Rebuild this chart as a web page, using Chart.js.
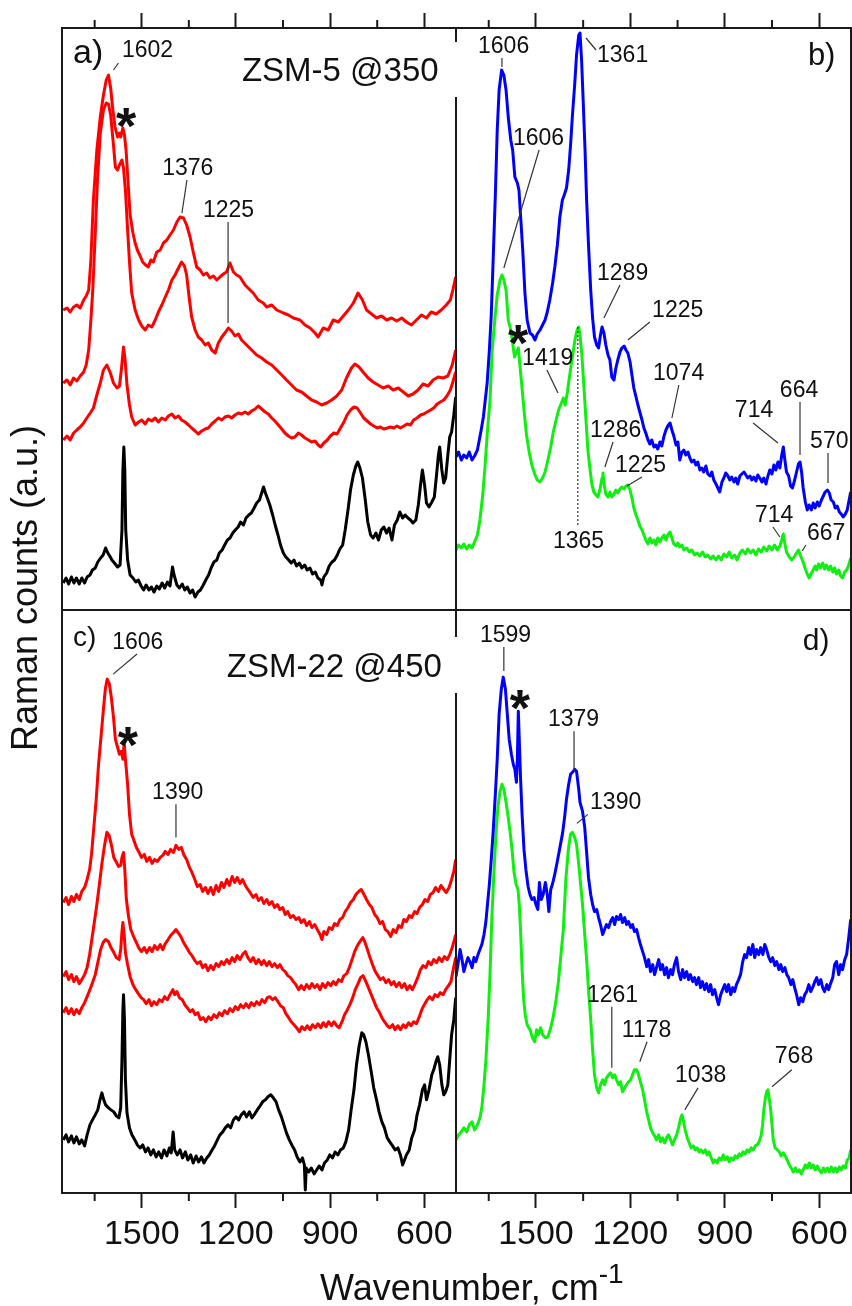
<!DOCTYPE html>
<html>
<head>
<meta charset="utf-8">
<script src="https://cdn.jsdelivr.net/npm/chart.js@4.4.1/dist/chart.umd.min.js"></script>
<style>
  body { margin: 0; background: #fff; }
  #fig { position: relative; width: 852px; height: 1306px; overflow: hidden; font-family: "Liberation Sans", Arial, sans-serif; color: #111; }
  #fig canvas { position: absolute; left: 0; top: 0; }
  .ytitle { position: absolute; left: -175px; top: 570px; width: 400px; line-height: 36px; font-size: 36px; text-align: center; transform: rotate(-90deg); white-space: nowrap; }
  .xtitle { position: absolute; left: 320px; top: 1270px; line-height: 36px; font-size: 36px; white-space: nowrap; }
  .xtitle span { font-size: 28px; position: relative; top: -17px; }
</style>
</head>
<body>
<div id="fig">
  <canvas id="pa" width="852" height="1306"></canvas>
  <canvas id="pb" width="852" height="1306"></canvas>
  <canvas id="pc" width="852" height="1306"></canvas>
  <canvas id="pd" width="852" height="1306"></canvas>
  <div class="ytitle">Raman counts (a.u.)</div>
  <div class="xtitle">Wavenumber, cm<span>-1</span></div>
</div>
<script>
// eje x: numero de onda (cm-1), invertido
const wnMin = 499, wnMax = 1754;
const majorTicks = [1500, 1200, 900, 600];
const minorTicks = [1650, 1350, 1050, 750];
const countMax = 582;

// Panel a) ZSM-5 @350 : [numero de onda, cuentas]
const aRed1 = [[1750,300],[1738,302],[1728,298],[1717,303],[1707,305],[1696,302],[1685,310],[1677,314],[1669,320],[1662,350],[1654,410],[1643,460],[1632,493],[1622,515],[1613,530],[1606,535],[1599,522],[1592,500],[1585,483],[1577,473],[1571,477],[1567,473],[1560,482],[1555,475],[1550,460],[1543,425],[1537,395],[1528,377],[1521,367],[1514,360],[1505,354],[1497,348],[1488,345],[1479,343],[1471,350],[1463,348],[1452,358],[1441,360],[1431,367],[1420,370],[1410,375],[1399,380],[1388,388],[1378,393],[1367,392],[1357,385],[1346,373],[1336,358],[1325,343],[1314,340],[1304,335],[1293,337],[1283,332],[1272,334],[1261,330],[1251,333],[1240,336],[1230,338],[1219,347],[1208,338],[1198,335],[1187,333],[1171,325],[1155,320],[1145,317],[1129,310],[1113,307],[1102,303],[1086,305],[1070,300],[1049,297],[1033,295],[1017,292],[996,290],[980,285],[964,282],[948,277],[938,273],[922,282],[906,280],[890,290],[874,288],[858,294],[842,300],[826,307],[811,317],[797,310],[784,300],[768,296],[752,292],[736,294],[720,290],[704,292],[688,289],[672,292],[657,288],[641,285],[625,290],[609,295],[593,292],[578,298],[562,296],[546,300],[530,305],[517,310],[509,320],[500,333]];
const aRed2 = [[1750,227],[1738,230],[1728,225],[1717,232],[1707,229],[1696,234],[1685,238],[1677,245],[1669,260],[1662,290],[1656,320],[1648,377],[1641,430],[1632,477],[1622,500],[1613,507],[1606,506],[1599,495],[1590,465],[1584,443],[1577,440],[1571,445],[1563,450],[1558,442],[1552,420],[1545,380],[1539,348],[1532,317],[1521,300],[1510,290],[1500,284],[1489,280],[1479,285],[1468,283],[1457,290],[1447,298],[1436,305],[1425,313],[1415,320],[1404,330],[1394,335],[1383,342],[1373,348],[1364,344],[1357,335],[1348,310],[1341,293],[1330,280],[1320,273],[1309,270],[1298,265],[1288,267],[1277,260],[1266,257],[1256,267],[1245,273],[1235,277],[1224,282],[1214,279],[1203,274],[1192,276],[1182,270],[1166,265],[1150,260],[1134,255],[1118,252],[1102,248],[1086,245],[1070,240],[1054,235],[1039,230],[1023,225],[1007,220],[991,218],[975,214],[959,210],[943,208],[927,205],[911,207],[895,210],[879,214],[863,220],[848,232],[832,242],[821,246],[808,243],[795,238],[779,232],[763,228],[747,225],[731,222],[715,224],[699,220],[683,222],[667,218],[651,214],[636,216],[620,220],[604,226],[588,224],[572,230],[556,233],[540,232],[525,234],[511,245],[500,260]];
const aRed3 = [[1750,170],[1738,174],[1728,170],[1717,177],[1707,180],[1696,183],[1685,187],[1675,192],[1664,197],[1654,202],[1643,215],[1632,227],[1622,240],[1611,245],[1600,237],[1590,227],[1579,222],[1571,224],[1565,240],[1558,263],[1553,250],[1547,225],[1539,205],[1532,193],[1521,185],[1510,188],[1500,190],[1489,186],[1479,191],[1468,189],[1457,192],[1447,188],[1436,192],[1425,190],[1415,194],[1404,196],[1394,192],[1383,194],[1373,190],[1362,188],[1351,185],[1341,182],[1330,179],[1320,176],[1309,179],[1298,181],[1288,182],[1277,186],[1266,189],[1256,192],[1245,190],[1235,193],[1224,194],[1214,192],[1203,195],[1192,197],[1182,196],[1171,198],[1161,196],[1150,199],[1139,201],[1129,204],[1118,201],[1107,198],[1097,196],[1086,192],[1076,189],[1065,185],[1054,181],[1044,177],[1033,174],[1023,172],[1012,173],[1001,177],[991,175],[980,172],[969,170],[959,168],[948,169],[938,165],[930,163],[920,167],[909,170],[899,174],[888,177],[878,176],[867,182],[856,188],[846,195],[835,200],[824,203],[814,202],[803,197],[793,192],[782,189],[771,186],[761,184],[750,182],[740,183],[729,181],[718,182],[708,183],[697,182],[687,184],[676,182],[665,184],[655,186],[644,185],[634,190],[623,192],[612,195],[602,196],[591,198],[580,200],[570,202],[559,206],[549,208],[538,210],[528,214],[517,220],[509,228],[500,238]];
const aBlack = [[1750,27],[1741,32],[1733,26],[1724,33],[1716,27],[1708,32],[1699,26],[1691,32],[1682,27],[1674,33],[1665,35],[1657,40],[1648,42],[1640,48],[1631,52],[1623,55],[1615,62],[1608,57],[1602,54],[1595,50],[1587,47],[1577,43],[1569,45],[1563,80],[1560,140],[1557,163],[1554,140],[1551,80],[1545,50],[1537,35],[1528,32],[1519,28],[1511,30],[1502,24],[1494,20],[1486,25],[1477,20],[1469,23],[1461,18],[1452,24],[1444,21],[1435,27],[1427,22],[1418,28],[1410,24],[1402,43],[1397,35],[1388,25],[1380,22],[1371,26],[1363,20],[1355,23],[1346,17],[1338,20],[1330,13],[1321,18],[1313,20],[1304,25],[1296,30],[1287,35],[1279,42],[1270,48],[1261,50],[1253,57],[1244,60],[1236,65],[1227,70],[1219,72],[1210,77],[1202,80],[1193,83],[1185,88],[1176,85],[1168,92],[1159,95],[1151,97],[1142,102],[1134,107],[1125,110],[1117,118],[1112,123],[1106,117],[1100,112],[1092,105],[1083,95],[1075,85],[1066,75],[1058,65],[1049,57],[1041,53],[1032,50],[1024,47],[1015,50],[1007,44],[998,47],[990,42],[981,45],[973,40],[964,42],[956,36],[947,38],[939,32],[930,30],[926,25],[920,33],[911,37],[903,44],[894,48],[886,50],[877,55],[869,61],[860,65],[852,80],[843,100],[835,120],[826,135],[818,144],[812,148],[805,142],[797,132],[788,110],[780,88],[771,75],[763,72],[754,77],[746,70],[737,80],[729,83],[720,77],[712,82],[703,70],[695,85],[686,90],[678,98],[669,92],[661,95],[652,92],[644,90],[636,87],[627,90],[619,105],[612,125],[606,140],[599,125],[593,107],[585,103],[576,108],[568,113],[561,135],[555,155],[551,163],[544,140],[538,127],[532,132],[525,155],[519,173],[513,178],[506,195],[500,213]];

// Panel b)
const bBlue = [[1754,153],[1746,158],[1737,150],[1729,155],[1720,152],[1712,158],[1703,150],[1695,154],[1686,160],[1680,170],[1674,180],[1667,193],[1661,210],[1655,227],[1648,260],[1642,295],[1636,350],[1629,415],[1623,480],[1617,520],[1609,540],[1602,535],[1595,520],[1588,493],[1580,470],[1574,460],[1567,433],[1559,427],[1554,420],[1549,395],[1542,360],[1535,317],[1528,290],[1519,277],[1511,275],[1503,270],[1496,276],[1487,280],[1479,285],[1471,290],[1464,298],[1456,310],[1447,327],[1440,343],[1432,365],[1424,393],[1416,410],[1410,415],[1403,422],[1396,440],[1390,465],[1384,495],[1377,525],[1371,555],[1364,575],[1360,577],[1355,550],[1350,510],[1344,460],[1339,410],[1333,365],[1326,320],[1320,292],[1314,273],[1307,265],[1301,262],[1295,275],[1290,283],[1284,277],[1278,265],[1271,255],[1265,250],[1259,233],[1252,230],[1246,242],[1240,250],[1233,258],[1227,262],[1220,264],[1214,260],[1208,257],[1201,248],[1195,235],[1189,222],[1182,213],[1176,205],[1170,198],[1163,190],[1157,182],[1151,177],[1144,170],[1138,166],[1132,170],[1125,163],[1119,165],[1113,161],[1106,168],[1100,164],[1093,174],[1087,180],[1081,184],[1074,187],[1068,180],[1062,174],[1055,165],[1049,168],[1043,150],[1036,158],[1030,160],[1024,155],[1017,158],[1011,152],[1005,148],[998,150],[992,145],[986,148],[979,140],[973,142],[967,138],[960,144],[954,136],[947,134],[941,138],[935,130],[928,126],[922,122],[916,118],[909,128],[903,132],[897,137],[890,134],[884,130],[878,133],[871,128],[865,132],[859,126],[852,134],[846,136],[839,138],[833,135],[827,132],[820,134],[814,130],[808,133],[801,129],[795,135],[789,132],[782,128],[776,132],[769,126],[763,134],[757,140],[750,136],[744,145],[738,140],[731,148],[725,142],[719,155],[714,163],[710,152],[704,138],[697,134],[691,124],[685,122],[678,130],[672,138],[666,146],[661,148],[656,138],[651,122],[644,108],[638,100],[632,105],[625,100],[619,107],[613,102],[606,108],[600,104],[593,110],[587,114],[581,118],[574,120],[568,117],[562,110],[555,108],[549,102],[543,104],[536,98],[530,96],[524,93],[517,96],[511,100],[505,110],[500,118]];
const bGreen = [[1754,60],[1746,65],[1737,62],[1729,66],[1720,61],[1712,65],[1703,62],[1695,68],[1686,75],[1678,90],[1669,115],[1662,143],[1655,175],[1646,210],[1639,260],[1630,293],[1623,315],[1614,330],[1608,335],[1602,330],[1595,320],[1588,290],[1580,280],[1574,267],[1568,253],[1561,258],[1556,262],[1551,245],[1545,225],[1538,200],[1530,175],[1521,157],[1513,145],[1504,136],[1496,130],[1487,128],[1479,132],[1471,138],[1462,150],[1453,163],[1445,178],[1436,190],[1428,200],[1419,207],[1413,212],[1407,205],[1400,218],[1394,232],[1388,245],[1381,260],[1375,272],[1369,280],[1364,283],[1360,275],[1354,255],[1348,225],[1341,190],[1335,160],[1328,140],[1322,125],[1316,118],[1309,115],[1303,113],[1297,120],[1290,132],[1287,137],[1283,125],[1278,116],[1271,113],[1265,118],[1259,113],[1252,116],[1246,120],[1240,117],[1233,121],[1227,123],[1220,121],[1214,124],[1208,125],[1201,120],[1195,112],[1189,102],[1182,95],[1176,90],[1170,84],[1163,80],[1157,75],[1151,70],[1144,66],[1138,72],[1132,67],[1125,70],[1119,65],[1113,72],[1106,68],[1100,72],[1093,75],[1087,70],[1081,75],[1074,78],[1068,72],[1062,66],[1055,64],[1049,67],[1043,63],[1036,65],[1030,60],[1021,62],[1013,58],[1005,60],[996,55],[988,57],[979,54],[971,58],[962,53],[954,55],[945,51],[937,54],[928,50],[920,54],[911,50],[903,56],[894,53],[886,58],[878,52],[869,55],[861,50],[852,57],[844,60],[835,56],[827,61],[818,57],[810,60],[801,55],[793,61],[784,58],[776,63],[767,59],[759,64],[750,60],[742,65],[733,60],[725,64],[719,70],[714,76],[710,68],[704,58],[695,53],[687,50],[678,54],[670,58],[666,60],[659,54],[651,48],[645,42],[638,36],[632,32],[626,36],[619,40],[613,44],[608,40],[602,46],[596,42],[589,47],[583,41],[577,45],[570,40],[564,44],[557,38],[551,42],[545,36],[538,40],[532,34],[526,32],[519,38],[513,40],[507,44],[500,52]];

// Panel c) ZSM-22 @450
const cRed1 = [[1750,290],[1741,295],[1733,288],[1724,296],[1716,291],[1708,298],[1699,293],[1691,301],[1682,305],[1674,313],[1666,323],[1660,338],[1654,360],[1645,393],[1638,426],[1629,458],[1622,483],[1616,503],[1610,513],[1603,508],[1597,495],[1590,475],[1584,453],[1577,445],[1571,438],[1565,441],[1560,433],[1556,450],[1552,433],[1545,408],[1539,378],[1532,358],[1526,353],[1517,345],[1510,341],[1501,335],[1492,338],[1484,331],[1475,335],[1467,329],[1459,333],[1450,331],[1441,335],[1433,337],[1425,341],[1416,338],[1408,343],[1399,340],[1391,347],[1382,343],[1374,345],[1365,337],[1357,333],[1348,325],[1340,320],[1331,313],[1323,306],[1314,308],[1306,301],[1297,305],[1289,299],[1280,305],[1272,298],[1263,307],[1255,301],[1246,310],[1238,305],[1229,313],[1221,307],[1212,316],[1204,310],[1196,315],[1187,309],[1179,313],[1170,307],[1162,303],[1153,299],[1145,295],[1136,298],[1128,292],[1119,295],[1111,289],[1102,293],[1094,288],[1085,291],[1077,285],[1068,288],[1060,283],[1051,285],[1043,278],[1035,281],[1026,275],[1017,277],[1009,273],[1000,275],[992,270],[983,273],[975,267],[966,271],[958,265],[949,268],[941,263],[932,258],[926,253],[920,261],[911,258],[903,265],[894,263],[886,269],[877,267],[869,273],[860,275],[852,281],[843,285],[835,290],[826,293],[818,298],[809,301],[801,303],[792,298],[784,293],[775,288],[767,285],[758,278],[750,275],[741,269],[733,271],[724,263],[716,261],[707,256],[699,263],[690,260],[682,267],[673,265],[665,273],[657,271],[648,277],[640,275],[631,281],[623,279],[615,285],[606,288],[598,293],[589,291],[581,298],[572,300],[564,305],[555,301],[547,307],[538,303],[530,300],[521,305],[513,313],[506,321],[500,333]];
const cRed2 = [[1750,216],[1741,221],[1733,213],[1724,218],[1716,211],[1708,216],[1699,209],[1691,213],[1682,218],[1674,225],[1666,238],[1659,253],[1652,268],[1643,288],[1635,308],[1626,331],[1618,348],[1611,360],[1604,357],[1597,348],[1589,335],[1582,331],[1574,326],[1567,327],[1563,335],[1558,340],[1554,323],[1549,293],[1542,276],[1535,263],[1526,256],[1517,250],[1510,245],[1501,241],[1492,245],[1484,240],[1475,245],[1467,241],[1459,247],[1450,243],[1441,248],[1433,243],[1425,249],[1416,253],[1408,257],[1399,260],[1391,263],[1382,259],[1374,255],[1365,249],[1357,245],[1348,240],[1340,237],[1331,232],[1323,229],[1314,231],[1306,225],[1297,228],[1289,222],[1280,227],[1272,223],[1263,229],[1255,226],[1246,231],[1238,228],[1229,233],[1221,229],[1212,235],[1204,231],[1196,237],[1187,233],[1179,238],[1170,241],[1162,235],[1153,231],[1145,235],[1136,229],[1128,233],[1119,228],[1111,232],[1102,227],[1094,231],[1085,226],[1077,229],[1068,225],[1060,228],[1051,223],[1043,221],[1035,217],[1026,215],[1017,211],[1009,208],[1000,203],[992,207],[983,203],[975,208],[966,204],[958,209],[949,205],[941,208],[932,203],[924,209],[915,205],[907,210],[898,207],[890,211],[881,208],[873,213],[864,211],[856,217],[847,219],[839,225],[830,233],[822,241],[813,247],[805,251],[796,255],[790,251],[781,243],[773,235],[765,228],[756,221],[748,217],[740,213],[731,215],[722,210],[714,213],[705,208],[697,211],[689,206],[680,210],[672,205],[663,209],[655,203],[646,207],[638,203],[629,209],[621,215],[612,223],[604,227],[595,225],[587,231],[578,228],[570,233],[561,230],[553,235],[544,231],[536,236],[527,233],[519,238],[511,245],[504,253],[500,258]];
const cRed3 = [[1750,180],[1741,185],[1733,179],[1724,184],[1716,178],[1708,183],[1699,179],[1691,185],[1682,190],[1674,196],[1665,203],[1657,210],[1648,218],[1640,230],[1631,243],[1623,250],[1615,253],[1606,251],[1598,245],[1589,240],[1581,235],[1572,233],[1567,243],[1563,261],[1560,270],[1556,258],[1552,240],[1545,228],[1537,216],[1528,208],[1519,203],[1511,199],[1502,195],[1494,193],[1486,189],[1477,193],[1469,187],[1461,191],[1452,188],[1444,193],[1435,191],[1427,196],[1418,193],[1410,198],[1401,203],[1395,198],[1388,201],[1380,195],[1371,193],[1363,188],[1355,185],[1346,181],[1338,183],[1330,178],[1321,180],[1313,173],[1304,175],[1296,171],[1287,176],[1279,173],[1270,178],[1261,175],[1253,180],[1244,177],[1236,182],[1227,179],[1219,184],[1210,181],[1202,186],[1193,183],[1185,188],[1176,185],[1168,189],[1159,185],[1151,190],[1142,187],[1134,191],[1125,188],[1117,193],[1108,190],[1100,195],[1092,196],[1083,193],[1075,195],[1066,191],[1058,187],[1049,185],[1041,179],[1032,175],[1024,171],[1015,168],[1007,165],[998,161],[990,166],[981,163],[973,167],[964,163],[956,168],[947,165],[939,169],[930,165],[922,170],[913,166],[905,171],[896,167],[888,171],[879,167],[871,165],[862,171],[854,178],[845,183],[837,188],[828,195],[820,203],[811,209],[803,215],[795,217],[786,211],[778,205],[769,198],[761,192],[752,185],[744,181],[735,175],[727,171],[718,167],[710,165],[701,168],[693,163],[684,167],[676,163],[667,168],[659,165],[650,170],[642,167],[634,171],[625,169],[617,175],[608,183],[600,188],[591,193],[583,196],[574,193],[566,198],[557,196],[549,200],[540,198],[532,203],[523,207],[515,211],[509,221],[500,235]];
const cBlack = [[1750,53],[1741,58],[1733,51],[1724,57],[1716,50],[1708,56],[1699,49],[1691,53],[1682,47],[1674,58],[1665,68],[1657,73],[1648,78],[1640,83],[1633,93],[1627,100],[1621,93],[1615,88],[1606,85],[1598,83],[1589,81],[1581,77],[1573,75],[1567,85],[1563,133],[1560,183],[1558,198],[1555,173],[1552,113],[1547,80],[1539,65],[1531,58],[1522,53],[1514,48],[1505,45],[1497,48],[1488,41],[1480,45],[1471,38],[1463,43],[1454,36],[1446,41],[1437,35],[1429,43],[1420,37],[1412,45],[1406,40],[1400,61],[1395,43],[1387,38],[1378,43],[1370,35],[1361,41],[1353,33],[1344,38],[1336,30],[1327,37],[1319,31],[1310,36],[1302,30],[1293,35],[1285,38],[1276,43],[1268,47],[1259,53],[1251,58],[1242,61],[1234,65],[1225,68],[1217,65],[1208,73],[1200,76],[1191,73],[1183,78],[1174,81],[1166,76],[1157,81],[1149,75],[1140,79],[1132,83],[1123,87],[1115,91],[1106,93],[1098,96],[1089,98],[1081,95],[1072,91],[1064,83],[1055,76],[1047,68],[1039,60],[1030,53],[1022,48],[1013,43],[1005,36],[996,31],[988,35],[982,28],[979,3],[976,25],[968,21],[960,25],[951,19],[943,23],[935,27],[926,23],[918,30],[909,33],[901,38],[892,35],[884,41],[875,38],[867,43],[858,45],[850,51],[841,63],[833,83],[824,103],[816,128],[807,148],[799,160],[793,158],[786,151],[778,138],[769,121],[761,105],[752,93],[744,81],[735,71],[727,65],[718,55],[710,51],[701,47],[693,43],[684,45],[676,38],[669,28],[663,33],[657,38],[648,43],[640,55],[631,63],[623,78],[615,88],[606,103],[599,108],[593,93],[585,103],[576,118],[570,123],[563,131],[557,136],[551,128],[544,108],[538,98],[532,101],[525,108],[519,133],[513,158],[506,173],[500,195]];

// Panel d)
const dBlue = [[1754,216],[1748,228],[1741,243],[1735,233],[1729,221],[1723,228],[1716,235],[1710,231],[1703,225],[1697,235],[1691,231],[1684,238],[1678,243],[1672,248],[1665,258],[1659,271],[1654,288],[1648,308],[1642,333],[1636,360],[1629,398],[1623,433],[1617,478],[1610,503],[1604,515],[1597,503],[1591,478],[1585,453],[1578,438],[1572,428],[1567,423],[1562,410],[1559,433],[1556,481],[1553,453],[1549,415],[1544,378],[1538,343],[1532,323],[1525,306],[1519,298],[1513,293],[1506,295],[1500,288],[1494,283],[1489,310],[1483,293],[1477,298],[1470,310],[1464,298],[1459,281],[1453,303],[1447,309],[1441,317],[1434,328],[1428,338],[1422,348],[1415,360],[1409,375],[1403,393],[1396,408],[1390,418],[1384,420],[1377,423],[1371,421],[1364,403],[1360,390],[1352,381],[1345,365],[1339,340],[1333,315],[1326,298],[1320,288],[1314,281],[1307,283],[1301,275],[1295,268],[1288,258],[1282,263],[1276,268],[1269,265],[1263,271],[1256,275],[1250,268],[1244,276],[1237,273],[1231,278],[1225,270],[1218,275],[1212,268],[1206,271],[1199,265],[1193,268],[1187,261],[1180,263],[1174,255],[1168,248],[1161,241],[1155,235],[1148,226],[1142,233],[1136,221],[1129,228],[1123,218],[1117,225],[1110,233],[1104,223],[1098,228],[1091,218],[1085,225],[1079,215],[1072,223],[1066,218],[1060,228],[1053,235],[1047,221],[1040,213],[1034,223],[1028,215],[1021,221],[1015,213],[1009,218],[1002,211],[996,215],[990,208],[983,215],[977,205],[971,211],[964,203],[958,209],[951,201],[945,208],[939,198],[932,203],[926,195],[920,188],[913,198],[907,203],[900,208],[894,201],[888,208],[881,198],[875,205],[869,201],[863,208],[856,213],[850,218],[843,231],[837,238],[831,235],[824,245],[818,238],[811,248],[805,235],[799,243],[792,238],[786,245],[779,238],[773,248],[767,243],[760,235],[754,231],[748,235],[741,227],[735,231],[728,223],[722,228],[716,221],[709,225],[703,218],[697,215],[690,208],[684,213],[678,205],[672,198],[665,188],[659,195],[652,191],[646,198],[640,201],[633,208],[627,201],[621,205],[614,211],[608,215],[602,208],[595,213],[589,205],[583,201],[576,208],[570,203],[564,209],[557,215],[551,228],[545,231],[538,218],[532,228],[526,223],[519,233],[513,238],[507,253],[500,273]];
const dGreen = [[1754,53],[1746,58],[1737,61],[1729,65],[1720,61],[1712,68],[1703,71],[1695,63],[1686,68],[1678,75],[1672,85],[1665,108],[1659,133],[1652,173],[1646,218],[1640,276],[1633,323],[1627,358],[1621,385],[1614,401],[1608,408],[1602,403],[1595,390],[1588,375],[1582,360],[1576,343],[1570,321],[1563,308],[1557,303],[1553,288],[1549,263],[1544,223],[1539,193],[1534,178],[1528,168],[1519,163],[1511,155],[1504,151],[1498,163],[1492,158],[1485,165],[1479,158],[1470,155],[1462,156],[1453,165],[1445,176],[1436,193],[1429,210],[1422,233],[1413,263],[1405,313],[1397,343],[1390,358],[1384,360],[1377,355],[1371,348],[1364,328],[1358,308],[1352,288],[1345,258],[1339,233],[1333,203],[1326,173],[1320,143],[1314,118],[1307,105],[1301,100],[1295,108],[1288,113],[1282,108],[1276,115],[1269,118],[1263,120],[1256,115],[1250,118],[1244,113],[1237,108],[1231,111],[1225,101],[1218,105],[1212,108],[1206,111],[1199,113],[1193,118],[1187,123],[1180,123],[1174,118],[1168,111],[1161,103],[1155,93],[1148,81],[1142,73],[1136,65],[1129,60],[1123,57],[1117,53],[1110,58],[1104,51],[1098,55],[1091,50],[1085,55],[1079,58],[1072,53],[1066,48],[1060,53],[1053,58],[1047,65],[1040,75],[1036,78],[1032,73],[1026,63],[1019,55],[1013,50],[1007,45],[1000,47],[994,43],[988,45],[981,41],[975,43],[969,40],[962,43],[956,38],[950,41],[943,35],[937,30],[931,33],[924,30],[918,35],[911,33],[905,38],[899,33],[892,36],[886,31],[880,35],[873,33],[867,37],[861,35],[854,39],[848,37],[842,41],[835,39],[829,43],[823,41],[816,45],[810,43],[803,47],[797,48],[791,51],[784,58],[780,68],[776,83],[771,95],[767,101],[763,103],[759,95],[754,83],[750,68],[746,53],[740,45],[733,43],[727,41],[721,37],[714,40],[708,37],[702,33],[695,28],[689,25],[682,21],[676,25],[670,21],[663,23],[657,19],[651,23],[644,28],[638,25],[632,30],[625,25],[619,28],[613,23],[606,27],[600,23],[593,20],[587,25],[581,21],[574,25],[568,21],[562,26],[555,21],[549,25],[543,21],[536,26],[530,23],[524,27],[517,25],[511,33],[505,35],[500,43]];

// Anotaciones: [texto, numero de onda, cuentas, tamaño]
const aNotes = [['a)',1719,547,34],['1602',1563,553,23],['ZSM-5 @350',1181,529,33],['*',1550,466,52],['1376',1435,435,23],['1225',1305,393,23]];
const aLeads = [[1574,547,1590,540],[1356,430,1372,397],[1225,388,1225,287]];
const bNotes = [['b)',636,545,31],['1606',1684,557,23],['1361',1306,548,23],['1606',1573,465,23],['*',1557,249,52],['1289',1306,330,23],['1225',1131,293,23],['1419',1544,245,23],['1074',1128,230,23],['714',868,193,23],['664',725,213,23],['570',629,162,23],['1286',1328,173,23],['1225',1249,138,23],['1365',1446,62,23],['714',804,88,23],['667',639,70,23]];
const bLeads = [[1608,552,1608,543],[1341,572,1309,560],[1490,460,1602,342],[1233,325,1284,292],[1138,288,1208,270],[1465,240,1430,217],[1046,225,1068,192],[810,187,731,167],[661,208,661,155],[572,157,572,127],[1255,168,1281,143],[1163,133,1211,124],[1367,283,1367,83,true],[747,83,725,73],[642,65,654,59]];
const cNotes = [['c)',1719,546,28],['1606',1594,543,23],['ZSM-22 @450',1229,515,33],['*',1544,429,52],['1390',1467,393,23]];
const cLeads = [[1515,538,1591,518],[1391,388,1391,355]];
const dNotes = [['d)',652,542,30],['1599',1678,550,23],['*',1551,466,52],['1379',1462,466,23],['1390',1328,383,23],['1261',1338,191,23],['1178',1227,156,23],['1038',1058,111,23],['768',741,130,23]];
const dLeads = [[1602,545,1602,521],[1379,461,1379,421],[1335,378,1370,369],[1259,186,1259,125],[1147,151,1170,131],[985,105,1027,83],[687,123,750,106]];

const FONT = '"Liberation Sans", Arial, sans-serif';
Chart.defaults.font.family = FONT;
Chart.defaults.color = '#111';

// Dibuja marco, ticks menores, lineas guia y textos del panel
function panelPlugin(p) {
    return {
        id: 'panel',
        afterDatasetsDraw(chart) {
            const { ctx, chartArea: a, scales: { x, y } } = chart;
            const seg = (x1, y1, x2, y2) => { ctx.beginPath(); ctx.moveTo(x1, y1); ctx.lineTo(x2, y2); ctx.stroke(); };
            ctx.save();
            ctx.strokeStyle = '#1a1a1a';
            ctx.lineWidth = 2;
            seg(a.left - 1, a.top, a.right + 1, a.top);
            seg(a.left - 1, a.bottom, a.right + 1, a.bottom);
            [[a.left, 'left'], [a.right, 'right']].forEach(([xx, side]) => {
                if (side === p.gapSide) {
                    seg(xx, a.top, xx, a.top + p.gap[0]);
                    seg(xx, a.top + p.gap[1], xx, a.bottom);
                } else {
                    seg(xx, a.top, xx, a.bottom);
                }
            });
            minorTicks.forEach(v => {
                const px = x.getPixelForValue(v);
                if (p.axis === 'top') seg(px, a.top, px, a.top - 8);
                else seg(px, a.bottom, px, a.bottom + 8);
            });
            ctx.strokeStyle = '#333';
            ctx.lineWidth = 1.2;
            p.leads.forEach(([w1, c1, w2, c2, dotted]) => {
                ctx.setLineDash(dotted ? [2, 2] : []);
                seg(x.getPixelForValue(w1), y.getPixelForValue(c1), x.getPixelForValue(w2), y.getPixelForValue(c2));
            });
            ctx.setLineDash([]);
            ctx.fillStyle = '#111';
            ctx.textBaseline = 'alphabetic';
            p.notes.forEach(([t, w, c, size]) => {
                const star = t === '*';
                ctx.font = (star ? 'bold ' : '') + size + 'px ' + FONT;
                ctx.textAlign = star ? 'center' : 'left';
                ctx.fillText(t, x.getPixelForValue(w), y.getPixelForValue(c));
            });
            ctx.restore();
        }
    };
}

function makePanel(id, series, p) {
    return new Chart(document.getElementById(id), {
        type: 'line',
        data: {
            datasets: series.map(([data, color]) => ({
                data,
                borderColor: color,
                borderWidth: 3,
                pointRadius: 0,
                tension: 0,
                fill: false,
                borderJoinStyle: 'round'
            }))
        },
        options: {
            responsive: false,
            animation: false,
            events: [],
            devicePixelRatio: 1,
            layout: { padding: p.pad },
            plugins: { legend: { display: false }, tooltip: { enabled: false } },
            scales: {
                x: {
                    type: 'linear',
                    min: wnMin,
                    max: wnMax,
                    reverse: true,
                    position: p.axis,
                    afterBuildTicks: s => { s.ticks = majorTicks.map(v => ({ value: v })); },
                    afterFit: s => { s.height = p.axisH; s.paddingLeft = 0; s.paddingRight = 0; },
                    grid: { drawOnChartArea: false, drawTicks: true, tickLength: 15, tickWidth: 2, tickColor: '#1a1a1a' },
                    border: { display: false },
                    ticks: {
                        display: p.axis === 'bottom',
                        font: { size: 34 },
                        color: '#111',
                        padding: 6,
                        maxRotation: 0,
                        autoSkip: false,
                        callback: v => String(v)
                    }
                },
                y: { type: 'linear', display: false, min: 0, max: countMax }
            }
        },
        plugins: [panelPlugin(p)]
    });
}

const RED = '#ff0000', BLUE = '#0000ff', GREEN = '#11ee11', BLACK = '#000000';

makePanel('pa', [[aRed1, RED], [aRed2, RED], [aRed3, RED], [aBlack, BLACK]],
    { pad: { left: 62, right: 396, top: 0, bottom: 696 }, axis: 'top', axisH: 28, gapSide: 'right', gap: [14, 69], notes: aNotes, leads: aLeads });
makePanel('pb', [[bBlue, BLUE], [bGreen, GREEN]],
    { pad: { left: 456, right: 1, top: 0, bottom: 696 }, axis: 'top', axisH: 28, gapSide: 'left', gap: [14, 69], notes: bNotes, leads: bLeads });
makePanel('pc', [[cRed1, RED], [cRed2, RED], [cRed3, RED], [cBlack, BLACK]],
    { pad: { left: 62, right: 396, top: 610, bottom: 43 }, axis: 'bottom', axisH: 70, gapSide: 'right', gap: [27, 83], notes: cNotes, leads: cLeads });
makePanel('pd', [[dBlue, BLUE], [dGreen, GREEN]],
    { pad: { left: 456, right: 1, top: 610, bottom: 43 }, axis: 'bottom', axisH: 70, gapSide: 'left', gap: [27, 83], notes: dNotes, leads: dLeads });
</script>
</body>
</html>
